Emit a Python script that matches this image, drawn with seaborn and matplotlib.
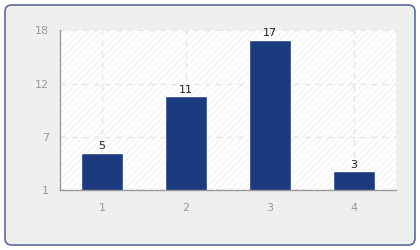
import matplotlib
matplotlib.use("Agg")
import matplotlib.pyplot as plt
from matplotlib.patches import FancyBboxPatch, Rectangle
import pandas as pd
import seaborn as sns

categories = ["1", "2", "3", "4"]
values = [5, 11, 17, 3]
y_ticks = [1, 6.667, 12.333, 18]
y_tick_labels = ["1", "7", "12", "18"]

df = pd.DataFrame({"category": categories, "value": values})

sns.set_theme(style="white")
plt.rcParams["font.family"] = ["DejaVu Sans"]
plt.rcParams["hatch.linewidth"] = 0.6

fig = plt.figure(figsize=(4.2, 2.5), dpi=100)
fig.patch.set_facecolor("white")

# rounded panel behind the chart
panel = FancyBboxPatch((5 / 420, 5 / 250), 410 / 420, 240 / 250,
                       boxstyle="round,pad=0,rounding_size=0.016",
                       transform=fig.transFigure, facecolor="#efefef",
                       edgecolor="#5b6a9c", linewidth=1.2, zorder=-1,
                       mutation_aspect=420 / 250)
fig.patches.append(panel)

ax = fig.add_axes([60 / 420, 1 - 190.3 / 250, 336 / 420, 160 / 250])
ax.set_zorder(1)
ax.set_facecolor("white")
ax.add_patch(Rectangle((0, 0), 1, 1, transform=ax.transAxes, facecolor="none",
                       edgecolor="#ececec", hatch="/////", linewidth=0, zorder=0))

sns.barplot(data=df, x="category", y="value", order=categories, color="#1b3a80",
            width=0.5, saturation=1, ax=ax, zorder=3)
ax.bar_label(ax.containers[0], labels=[str(v) for v in values], padding=1,
             fontsize=8, color="#222222")

ax.set_xlim(-0.5, len(categories) - 0.5)
ax.set_ylim(y_ticks[0], y_ticks[-1])
ax.set_yticks(y_ticks)
ax.set_yticklabels(y_tick_labels)
ax.set_xlabel("")
ax.set_ylabel("")

ax.grid(True, color="#e4e4e4", linestyle=(0, (4, 4)), linewidth=1, zorder=1)
ax.set_axisbelow(True)

for side in ["top", "right"]:
    ax.spines[side].set_visible(False)
for side in ["left", "bottom"]:
    ax.spines[side].set_color("#999999")
    ax.spines[side].set_linewidth(1)
    ax.spines[side].set_zorder(4)

ax.tick_params(axis="both", which="major", direction="out", length=5, width=1,
               color="#999999", labelcolor="#999999", labelsize=8, pad=3)
ax.tick_params(axis="x", pad=4)

fig.savefig("out.png", dpi=100)
